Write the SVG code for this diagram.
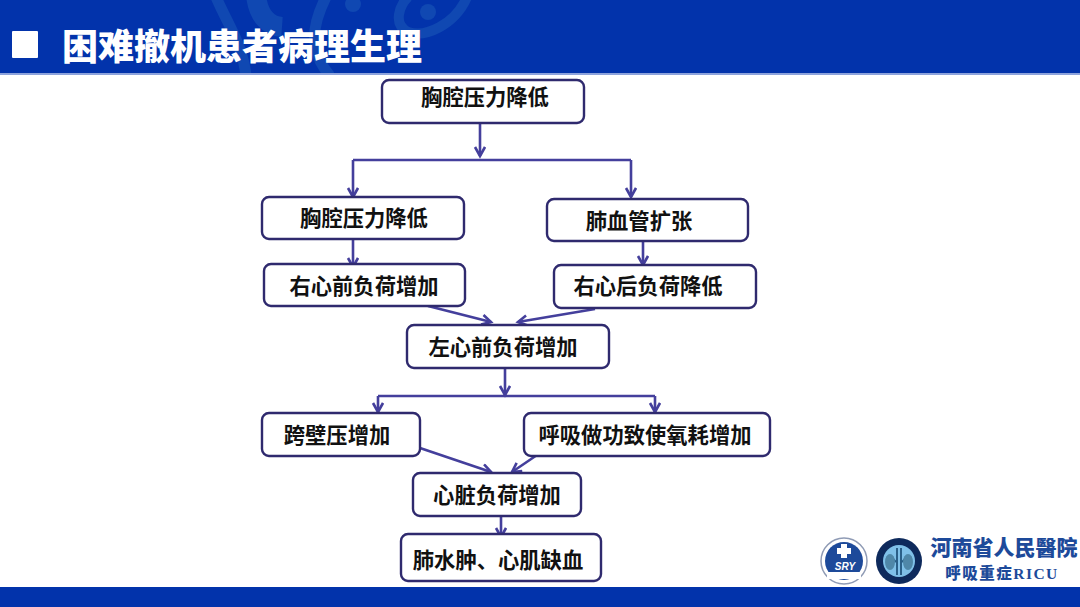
<svg xmlns="http://www.w3.org/2000/svg" width="1080" height="607" viewBox="0 0 1080 607">
<style>
.n{fill:#fff;stroke:#2f2a6e;stroke-width:2.4}
.t{font-family:"Noto Sans CJK SC","Liberation Sans",sans-serif;font-size:21.3px;font-weight:700;fill:#111;text-anchor:middle;dominant-baseline:central}
.c{fill:none;stroke:#443f9c;stroke-width:2.6}
.d{fill:none;stroke:#1048b2;stroke-linecap:butt}
.l{font-family:"Noto Sans CJK SC",serif;font-weight:900;fill:#1d4a9a;text-anchor:middle}
</style>
<defs>
<marker id="a" markerUnits="userSpaceOnUse" markerWidth="14" markerHeight="14" refX="10" refY="6" orient="auto"><path d="M1 1L10 6L1 11" fill="none" stroke="#443f9c" stroke-width="2.6"/></marker>
<clipPath id="h"><rect width="1080" height="73"/></clipPath>
</defs>
<rect width="1080" height="607" fill="#fff"/>
<g id="header">
<rect width="1080" height="73" fill="#0233ab"/>
<rect y="73" width="1080" height="2" fill="#8da3dc"/>
<g clip-path="url(#h)">
<path class="d" stroke-width="11" d="M216 -3C228 25 243 45 246 76"/>
<path class="d" stroke-width="20" d="M256 -5C258 15 268 26 282 27"/>
<path class="d" stroke-width="11" d="M326 -3C312 25 308 50 330 76"/>
<circle cx="353" cy="4" r="8" fill="#1048b2"/>
<path class="d" stroke-width="10" d="M467 -3C455 25 425 38 408 32C392 24 400 5 408 -3"/>
<circle cx="428" cy="12" r="8" fill="#1048b2"/>
</g>
<rect x="12" y="31" width="26" height="27" rx="1" fill="#fff"/>
<text x="62" y="60" font-family="'Noto Sans CJK SC',sans-serif" font-size="36" font-weight="900" fill="#fff">困难撤机患者病理生理</text>
</g>
<rect id="footer" y="587" width="1080" height="20" fill="#0233ab"/>
<g id="connectors">
<path class="c" marker-end="url(#a)" d="M480 124V156"/>
<path class="c" d="M353 160H631"/>
<path class="c" marker-end="url(#a)" d="M353 160V197"/>
<path class="c" marker-end="url(#a)" d="M631 160V197"/>
<path class="c" marker-end="url(#a)" d="M353 239V267"/>
<path class="c" marker-end="url(#a)" d="M643 241V265"/>
<path class="c" marker-end="url(#a)" d="M428 306L491 322"/>
<path class="c" marker-end="url(#a)" d="M595 309L518 322"/>
<path class="c" marker-end="url(#a)" d="M505 368V395"/>
<path class="c" d="M378 396H655"/>
<path class="c" marker-end="url(#a)" d="M378 396V412"/>
<path class="c" marker-end="url(#a)" d="M655 396V412"/>
<path class="c" marker-end="url(#a)" d="M420 448L491 472"/>
<path class="c" marker-end="url(#a)" d="M540 453L512 472"/>
<path class="c" marker-end="url(#a)" d="M501 516V537"/>
</g>
<g id="n1"><rect class="n" x="382" y="80" width="202" height="43" rx="7"/><text class="t" x="485" y="95">胸腔压力降低</text></g>
<g id="n2"><rect class="n" x="262" y="197" width="202" height="42" rx="7"/><text class="t" x="364" y="216">胸腔压力降低</text></g>
<g id="n3"><rect class="n" x="547" y="199" width="201" height="42" rx="7"/><text class="t" x="639" y="219">肺血管扩张</text></g>
<g id="n4"><rect class="n" x="264" y="264" width="201" height="42" rx="7"/><text class="t" x="364" y="284">右心前负荷增加</text></g>
<g id="n5"><rect class="n" x="554" y="265" width="202" height="43" rx="7"/><text class="t" x="648" y="284">右心后负荷降低</text></g>
<g id="n6"><rect class="n" x="407" y="325" width="202" height="43" rx="7"/><text class="t" x="503" y="345">左心前负荷增加</text></g>
<g id="n7"><rect class="n" x="262" y="413" width="158" height="43" rx="7"/><text class="t" x="337" y="433">跨壁压增加</text></g>
<g id="n8"><rect class="n" x="524" y="413" width="246" height="43" rx="7"/><text class="t" x="645" y="433">呼吸做功致使氧耗增加</text></g>
<g id="n9"><rect class="n" x="413" y="473" width="168" height="43" rx="7"/><text class="t" x="497" y="493">心脏负荷增加</text></g>
<g id="n10"><rect class="n" x="401" y="534" width="200" height="47" rx="7"/><text class="t" x="498" y="558">肺水肿、心肌缺血</text></g>
<g id="logo">
<circle cx="844" cy="561" r="23" fill="#fff" stroke="#8f9bb5" stroke-width="1.5"/>
<circle cx="844" cy="561" r="19" fill="#1d4a9a"/>
<rect x="827" y="572" width="34" height="7" fill="#fff"/>
<rect x="841" y="544" width="6" height="14" fill="#fff"/><rect x="837" y="548" width="14" height="6" fill="#fff"/>
<text x="845" y="570" font-family="'Liberation Sans',sans-serif" font-size="10" font-weight="700" font-style="italic" fill="#fff" text-anchor="middle">SRY</text>
<circle cx="899" cy="561" r="23" fill="#0e2a5c"/>
<circle cx="899" cy="561" r="16" fill="#7fc0e8"/>
<path d="M897 548V575M901 548V575M890 556L896 562M908 556L902 562" stroke="#2a5f88" stroke-width="2" fill="none"/>
<ellipse cx="890" cy="562" rx="5" ry="8" fill="#4f87a8"/><ellipse cx="908" cy="562" rx="5" ry="8" fill="#4f87a8"/>
<text class="l" x="1004" y="555" font-size="21">河南省人民醫院</text>
<text class="l" x="1002" y="579" font-size="15.5" letter-spacing="1.5">呼吸重症<tspan font-family="'Liberation Serif',serif" font-weight="700">RICU</tspan></text>
</g>
</svg>
